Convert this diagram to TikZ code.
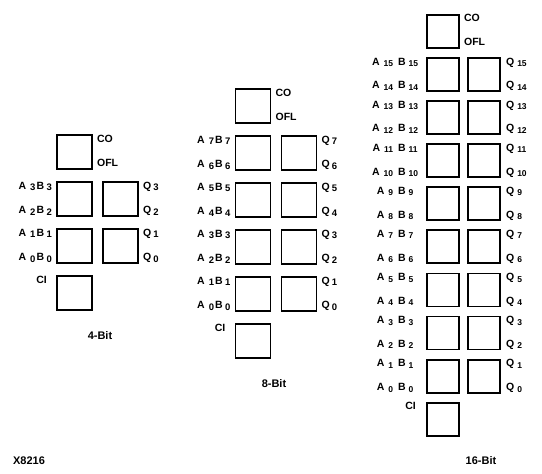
\documentclass[tikz,border=0pt]{standalone}
\usepackage{fontspec}
\setmainfont{Liberation Sans}
\usetikzlibrary{positioning}

% lowered index digits
\newcommand{\sbs}[1]{\lower1.5pt\hbox{\fontsize{9.5}{10}\selectfont #1}}
\newcommand{\sbt}[1]{\lower1.5pt\hbox{\fontsize{8.5}{10}\selectfont #1}}

\tikzset{
  blk/.style={draw, line width=1.8pt, inner sep=0pt, minimum width=35pt, minimum height=34pt},
  sblk/.style={blk, minimum width=32pt, minimum height=33pt},
  lbl/.style={inner sep=0pt, font=\fontsize{10.5}{12}\selectfont\bfseries},
  captxt/.style={lbl, font=\fontsize{11}{13}\selectfont\bfseries},
}

\begin{document}
\begin{tikzpicture}[x=1pt, y=-1pt, on grid, node distance=47pt]
   \useasboundingbox (0,0) rectangle (542,474);

   % 4-Bit
   \node[blk] (co4) at (74.5,152) {};
   \node[blk, below=of co4] (a4-1) {};
   \node[blk, below=of a4-1] (a4-0) {};
   \node[blk, below=of a4-0] (ci4) {};
   \node[blk, right=46pt of a4-1] (q4-1) {};
   \node[blk, right=46pt of a4-0] (q4-0) {};

   \node[lbl, anchor=base west] (tco4) at ([xshift=4pt,yshift=-8pt]co4.north east) {CO};
   \node[lbl, anchor=base west] (tofl4) at ([xshift=4pt,yshift=3pt]co4.south east) {OFL};
   \node[lbl, anchor=base east] (tci4) at ([xshift=-9pt,yshift=-8pt]ci4.north west) {CI};
   \foreach \r in {1,0} {
      \pgfmathtruncatemacro{\hi}{2*\r+1}
      \pgfmathtruncatemacro{\lo}{2*\r}
      \node[lbl, anchor=base east] (ab4-\hi) at ([xshift=-4pt,yshift=-8pt]a4-\r.north west) {A\kern4pt\sbs{\hi}\kern1pt B\kern2.5pt\sbs{\hi}};
      \node[lbl, anchor=base east] (ab4-\lo) at ([xshift=-4pt,yshift=3pt]a4-\r.south west) {A\kern4pt\sbs{\lo}\kern1pt B\kern2.5pt\sbs{\lo}};
      \node[lbl, anchor=base west] (tq4-\hi) at ([xshift=4pt,yshift=-8pt]q4-\r.north east) {Q\kern2pt\sbs{\hi}};
      \node[lbl, anchor=base west] (tq4-\lo) at ([xshift=4pt,yshift=3pt]q4-\r.south east) {Q\kern2pt\sbs{\lo}};
   }
   \node[captxt] (cap4) at (100,336) {4-Bit};

   % 8-Bit
   \node[blk] (co8) at (253,106) {};
   \node[blk, below=of co8] (a8-3) {};
   \foreach \r in {2,1,0} {
      \pgfmathtruncatemacro{\p}{\r+1}
      \node[blk, below=of a8-\p] (a8-\r) {};
   }
   \node[blk, below=of a8-0] (ci8) {};
   \foreach \r in {3,...,0}
      \node[blk, right=46pt of a8-\r] (q8-\r) {};

   \node[lbl, anchor=base west] (tco8) at ([xshift=4pt,yshift=-8pt]co8.north east) {CO};
   \node[lbl, anchor=base west] (tofl8) at ([xshift=4pt,yshift=3pt]co8.south east) {OFL};
   \node[lbl, anchor=base east] (tci8) at ([xshift=-9pt,yshift=-8pt]ci8.north west) {CI};
   \foreach \r in {3,...,0} {
      \pgfmathtruncatemacro{\hi}{2*\r+1}
      \pgfmathtruncatemacro{\lo}{2*\r}
      \node[lbl, anchor=base east] (ab8-\hi) at ([xshift=-4pt,yshift=-8pt]a8-\r.north west) {A\kern4pt\sbs{\hi}\kern1pt B\kern2.5pt\sbs{\hi}};
      \node[lbl, anchor=base east] (ab8-\lo) at ([xshift=-4pt,yshift=3pt]a8-\r.south west) {A\kern4pt\sbs{\lo}\kern1pt B\kern2.5pt\sbs{\lo}};
      \node[lbl, anchor=base west] (tq8-\hi) at ([xshift=4pt,yshift=-8pt]q8-\r.north east) {Q\kern2pt\sbs{\hi}};
      \node[lbl, anchor=base west] (tq8-\lo) at ([xshift=4pt,yshift=3pt]q8-\r.south east) {Q\kern2pt\sbs{\lo}};
   }
   \node[captxt] (cap8) at (274,384) {8-Bit};

   % 16-Bit
   \begin{scope}[node distance=43.1pt]
   \node[sblk] (co16) at (443,31.3) {};
   \node[sblk, below=of co16] (a16-7) {};
   \foreach \r in {6,...,0} {
      \pgfmathtruncatemacro{\p}{\r+1}
      \node[sblk, below=of a16-\p] (a16-\r) {};
   }
   \node[sblk, below=of a16-0] (ci16) {};
   \foreach \r in {7,...,0}
      \node[sblk, right=41pt of a16-\r] (q16-\r) {};

   \node[lbl, anchor=base west] (tco16) at ([xshift=4pt,yshift=-8pt]co16.north east) {CO};
   \node[lbl, anchor=base west] (tofl16) at ([xshift=4pt,yshift=3pt]co16.south east) {OFL};
   \node[lbl, anchor=base east] (tci16) at ([xshift=-10pt,yshift=-8pt]ci16.north west) {CI};
   \foreach \r in {7,...,0} {
      \pgfmathtruncatemacro{\hi}{2*\r+1}
      \pgfmathtruncatemacro{\lo}{2*\r}
      \node[lbl, anchor=base] (ab16-\hi) at ([xshift=-31pt,yshift=-8pt]a16-\r.north west) {A\kern4pt\sbt{\hi}\kern5pt B\kern3pt\sbt{\hi}};
      \node[lbl, anchor=base] (ab16-\lo) at ([xshift=-31pt,yshift=3pt]a16-\r.south west) {A\kern4pt\sbt{\lo}\kern5pt B\kern3pt\sbt{\lo}};
      \node[lbl, anchor=base west] (tq16-\hi) at ([xshift=5pt,yshift=-8pt]q16-\r.north east) {Q\kern3pt\sbt{\hi}};
      \node[lbl, anchor=base west] (tq16-\lo) at ([xshift=5pt,yshift=3pt]q16-\r.south east) {Q\kern3pt\sbt{\lo}};
   }
   \end{scope}
   \node[captxt] (cap16) at (481,461) {16-Bit};

   \node[captxt] (fig) at (29,461) {X8216};
\end{tikzpicture}
\end{document}
